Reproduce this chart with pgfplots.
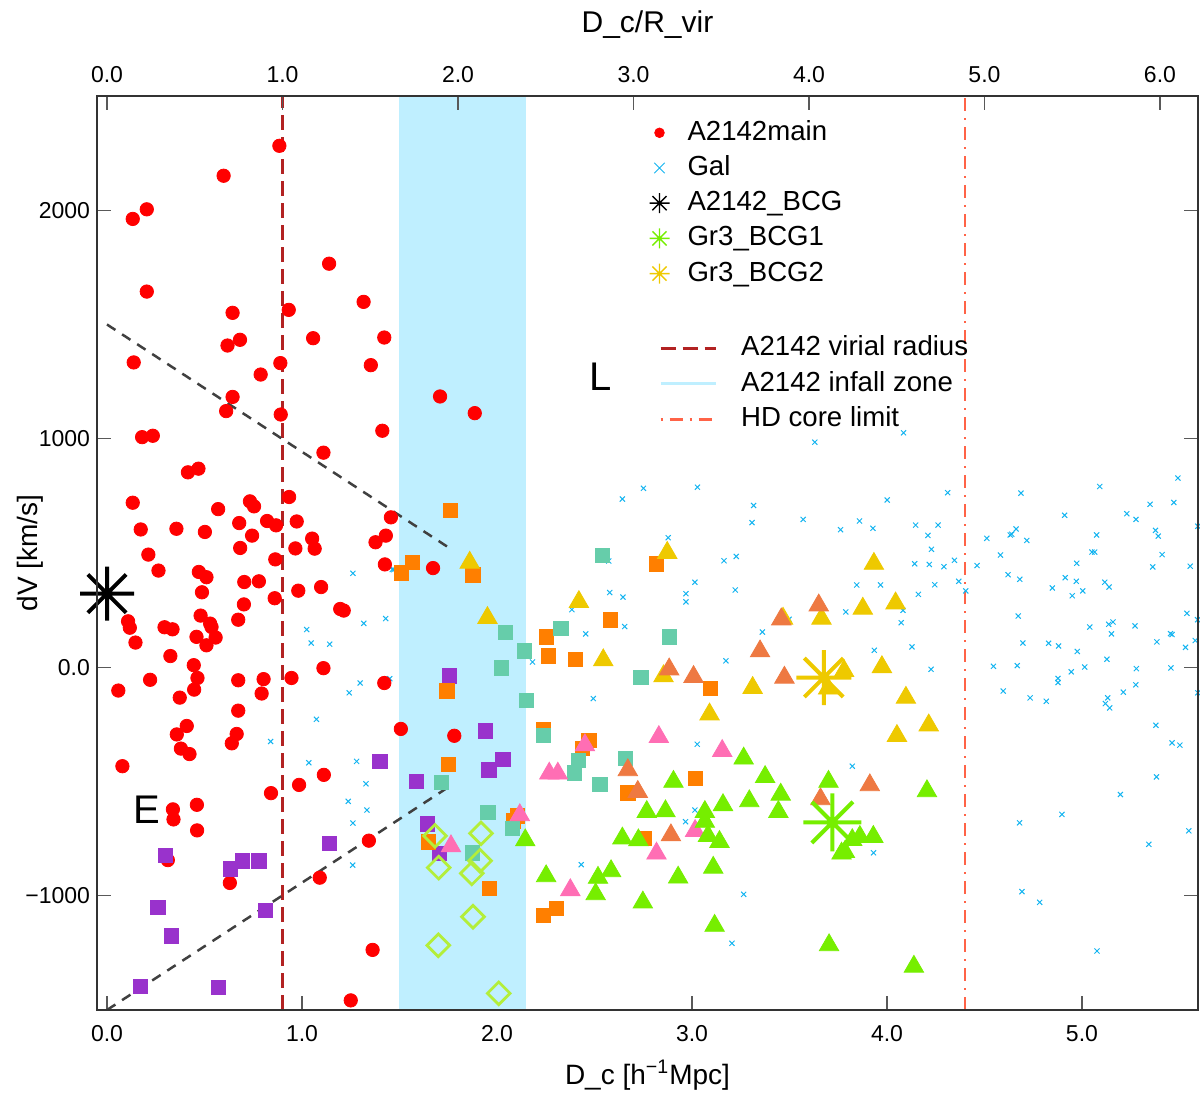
\documentclass[border=0pt]{standalone}
\usepackage{fontspec}
\setmainfont{Liberation Sans}
\usepackage{pgfplots}
\pgfplotsset{compat=1.18}
\definecolor{galblue}{RGB}{20,180,240}
\definecolor{purp}{RGB}{153,50,204}
\definecolor{orng}{RGB}{255,127,0}
\definecolor{teal2}{RGB}{102,205,170}
\definecolor{gold2}{RGB}{238,201,0}
\definecolor{coral2}{RGB}{238,121,66}
\definecolor{pink2}{RGB}{255,110,180}
\definecolor{green2}{RGB}{118,238,0}
\definecolor{olive2}{RGB}{179,238,58}
\definecolor{firebrick}{RGB}{178,34,34}
\definecolor{infall}{RGB}{191,239,255}
\definecolor{tomato}{RGB}{255,99,71}
\definecolor{dgray}{RGB}{64,64,64}
\pgfdeclareplotmark{ast8}{%
  \pgfpathmoveto{\pgfqpoint{-\pgfplotmarksize}{0pt}}\pgfpathlineto{\pgfqpoint{\pgfplotmarksize}{0pt}}%
  \pgfpathmoveto{\pgfqpoint{0pt}{-\pgfplotmarksize}}\pgfpathlineto{\pgfqpoint{0pt}{\pgfplotmarksize}}%
  \pgfpathmoveto{\pgfqpoint{-0.7071\pgfplotmarksize}{-0.7071\pgfplotmarksize}}\pgfpathlineto{\pgfqpoint{0.7071\pgfplotmarksize}{0.7071\pgfplotmarksize}}%
  \pgfpathmoveto{\pgfqpoint{-0.7071\pgfplotmarksize}{0.7071\pgfplotmarksize}}\pgfpathlineto{\pgfqpoint{0.7071\pgfplotmarksize}{-0.7071\pgfplotmarksize}}%
  \pgfusepathqstroke}
\pgfplotsset{
  mklegend/.style={legend image code/.code={\path[draw=none,fill=none] (-6pt,-6pt) rectangle (6pt,6pt); \draw[##1] plot coordinates {(0pt,0pt)};}},
  lnlegend/.style={legend image code/.code={\path[draw=none,fill=none] (0pt,-6pt) rectangle (27.5pt,6pt); \draw[##1] (0pt,0pt) -- (27.5pt,0pt);}},
  common/.style={at={(0pt,0pt)}, anchor=south west, scale only axis, width=550.5pt, height=457pt,
    ymin=-1500, ymax=2500, tick align=inside, major tick length=7pt,
    axis line style={draw=black!80, line width=0.8pt},
    every tick/.style={black!65, line width=0.6pt},
    tick label style={font=\fontsize{11.5}{13}\selectfont}},
  sq/.style={only marks, mark=square*, mark size=3.6pt, mark options={draw=#1, fill=#1}, forget plot},
  tri/.style={only marks, mark=triangle*, mark size=5.6pt, mark options={draw=#1, fill=#1}, forget plot},
}
\begin{document}
\begin{tikzpicture}
\useasboundingbox (-48.5pt,-45.5pt) rectangle (551.5pt,505pt);
\begin{axis}[common,
  xmin=-0.0513, xmax=5.595,
  xtick={0,1,2,3,4,5}, xticklabels={0.0,1.0,2.0,3.0,4.0,5.0},
  ytick={-1000,0,1000,2000}, yticklabels={−1000,0.0,1000,2000},
  xtick pos=left, ytick pos=both, yticklabel pos=left,
  xticklabel style={yshift=-4pt},
  xlabel={D\_c [h\textsuperscript{−1}Mpc]}, ylabel={dV [km/s]},
  xlabel style={font=\fontsize{14}{16}\selectfont, at={(axis description cs:0.5,-0.0711)}, anchor=center},
  ylabel style={font=\fontsize{14}{16}\selectfont, at={(axis description cs:-0.0609,0.5)}, anchor=center},
  legend cell align=left,
  legend style={at={(0.5,0.9745)}, anchor=north west, draw=none, fill=none, inner sep=0pt, outer sep=0pt,
    font=\fontsize{13.8}{16}\selectfont, row sep=4.1pt,
    nodes={inner sep=0pt, text height=10.5pt, text depth=3pt},
    /tikz/every odd column/.append style={column sep=8pt}},
]
\addlegendimage{mklegend, only marks, mark=*, mark size=2.4pt, mark options={draw=red, fill=red}}
\addlegendentry{A2142main}
\addlegendimage{mklegend, only marks, mark=x, mark size=3.7pt, mark options={draw=galblue, line width=0.5pt}}
\addlegendentry{Gal}
\addlegendimage{mklegend, only marks, mark=ast8, mark size=5pt, mark options={draw=black, line width=0.7pt}}
\addlegendentry{A2142\_BCG}
\addlegendimage{mklegend, only marks, mark=ast8, mark size=5pt, mark options={draw=green2, line width=0.7pt}}
\addlegendentry{Gr3\_BCG1}
\addlegendimage{mklegend, only marks, mark=ast8, mark size=5pt, mark options={draw=gold2, line width=0.7pt}}
\addlegendentry{Gr3\_BCG2}
% infall zone
\addplot[fill=infall, draw=none, forget plot] coordinates {(1.5,-1500) (2.15,-1500) (2.15,2500) (1.5,2500)};
% Gal
\addplot[only marks, mark=x, mark size=1.8pt, mark options={draw=galblue, line width=0.5pt}, forget plot] coordinates {
(1.261,411)(1.463,428)(1.024,165)(1.317,192)(1.429,213)(1.047,106)(1.142,101)(1.298,-69)(1.242,-112)(1.074,-228)(1.45,-50)
(0.839,-325)(1.035,-418)(1.280,-412)(1.328,-510)(1.237,-587)(1.333,-625)(1.261,-682)(1.260,-866)
(3.630,985)(4.085,1026)
(2.643,736)(2.751,783)(3.028,788)(2.878,567)(2.573,465)(3.015,372)(2.578,327)(2.646,307)(2.969,322)(2.969,286)(2.384,252)(2.655,178)(2.455,146)(2.182,23)(2.494,-137)(1.471,427)(3.027,-337)
(2.432,-864)(2.967,-676)(3.015,-625)
(3.316,708)(3.308,633)(3.570,647)(4.001,732)(4.311,764)(3.762,602)(3.859,640)(3.928,608)(4.147,622)(4.262,622)(4.210,577)(4.228,516)(4.512,564)(4.632,579)(4.582,491)(4.621,405)(3.164,466)(3.227,485)(3.222,338)(4.142,453)(4.217,450)(4.292,440)(4.346,468)(4.462,445)(4.368,376)(4.404,334)(4.245,361)(4.161,319)(3.845,360)(3.967,360)(3.789,242)(4.082,249)(4.073,195)(3.498,210)(3.361,154)(3.174,28)(3.935,74)(4.128,89)(4.226,-9)(4.546,4)(4.596,-104)
(3.822,-433)(3.931,-812)(3.265,-994)(3.205,-1208)
(4.687,762)(5.091,791)(5.492,828)(4.911,665)(5.349,713)(5.471,721)(5.230,672)(5.277,647)(4.662,605)(4.640,582)(4.717,555)(5.075,579)(5.377,599)(5.391,574)(5.594,617)(5.051,504)(5.065,504)(5.411,493)(4.973,455)(5.363,439)(5.555,442)(4.681,385)(4.848,347)(4.914,392)(4.971,376)(5.004,334)(4.950,313)(5.117,372)(5.139,351)(4.673,224)(5.040,176)(5.137,188)(5.159,198)(5.151,146)(5.272,181)(5.538,236)(5.593,208)(5.454,147)(5.462,143)(5.384,111)(5.531,87)(5.581,117)(4.697,106)(4.829,105)(4.880,93)(4.976,69)(5.128,35)(4.668,7)(5.014,1)(4.945,-20)(4.877,-49)(4.877,-67)(5.279,-6)(5.456,-3)(5.276,-77)(5.212,-109)(4.734,-134)(4.817,-149)(5.132,-134)(5.120,-159)(5.142,-178)(5.594,-112)(5.379,-254)
(5.462,-331)(5.502,-341)(5.382,-480)(5.197,-557)(4.897,-644)(4.680,-681)(5.548,-716)(5.343,-775)(4.692,-982)(4.783,-1029)(5.077,-1242)
};
% A2142main
\addplot[only marks, mark=*, mark size=3.35pt, mark options={draw=red, fill=red}, forget plot] coordinates {
(0.884,2282)(0.598,2151)(0.204,2004)(0.132,1962)(1.139,1766)(0.204,1644)(1.316,1599)(0.644,1551)(0.932,1564)(1.057,1440)(1.422,1443)(0.682,1433)(0.618,1408)(0.137,1334)(0.889,1331)(1.353,1322)(0.788,1281)(0.644,1183)(0.611,1121)(0.891,1106)
(1.708,1185)(1.886,1112)
(1.412,1035)(0.180,1007)(0.235,1013)(1.110,939)(0.415,853)(0.469,869)(0.132,720)(0.570,692)(0.733,726)(0.754,704)(0.934,745)(1.456,656)(0.173,603)(0.356,606)(0.502,592)(0.678,631)(0.821,640)(0.867,621)(0.973,638)(0.744,576)(1.430,576)(1.052,563)(1.377,547)(0.683,522)(0.966,520)(1.065,519)(0.212,493)(0.863,472)(1.425,450)(0.264,423)(0.471,417)(0.510,394)(0.704,373)(0.779,376)(0.981,335)(1.098,351)(0.487,328)(0.860,302)(0.702,275)(1.196,255)(1.214,248)(0.480,226)(0.673,208)(0.108,201)(0.117,173)(0.529,191)(0.536,176)(0.295,175)(0.336,166)(0.459,133)(0.557,130)(0.146,108)(0.510,96)(0.325,49)(0.445,9)(1.110,-4)(0.221,-55)(0.464,-47)(0.673,-57)(0.803,-52)(0.946,-47)(0.058,-102)(0.447,-98)(0.793,-115)(1.422,-69)(0.373,-133)(0.673,-190)
(1.672,434)(1.507,-270)(1.781,-300)
(0.409,-257)(0.358,-294)(0.665,-292)(0.640,-333)(0.379,-356)(0.423,-380)(0.079,-433)(1.112,-471)(0.985,-515)(0.841,-551)(0.461,-602)(0.338,-622)(0.341,-666)(0.462,-714)(1.343,-759)(0.312,-844)(0.630,-944)(1.091,-921)(1.362,-1237)(1.250,-1458)
};
% purple squares
\addplot[sq=purp] coordinates {
(1.40,-411)(0.300,-823)(0.632,-883)(0.695,-848)(0.778,-847)(1.142,-771)(0.260,-1052)(0.812,-1063)(0.331,-1175)(0.171,-1398)(0.570,-1402)(1.757,-38)(1.942,-278)(2.030,-404)(1.959,-450)(1.588,-500)(1.643,-686)(1.704,-815)
};
% orange squares
\addplot[sq=orng] coordinates {
(1.761,686)(1.566,459)(1.509,412)(1.877,404)(2.581,207)(2.816,452)(2.254,133)(2.265,49)(2.403,34)(1.744,-104)(2.237,-273)(2.472,-319)(2.437,-356)(1.751,-424)(3.018,-487)(2.672,-550)(2.085,-672)(2.105,-650)(1.648,-765)(2.756,-748)(1.961,-969)(2.304,-1055)(2.239,-1087)(3.094,-93)
};
% teal squares
\addplot[sq=teal2] coordinates {
(2.542,490)(2.328,169)(2.042,153)(2.141,71)(2.023,-3)(2.883,133)(2.739,-44)(2.151,-144)(2.239,-297)(2.417,-407)(2.398,-462)(2.657,-399)(2.527,-513)(1.715,-504)(1.954,-635)(2.078,-705)(1.874,-812)
};
% gold triangles
\addplot[tri=gold2] coordinates {
(1.860,458)(2.873,501)(2.420,286)(1.951,216)(2.545,31)(2.854,-39)(3.933,453)(4.044,280)(3.876,257)(3.664,213)(3.467,213)(3.780,-16)(3.974,1)(3.698,-93)(3.311,-90)(3.090,-206)(4.097,-133)(4.214,-254)(4.051,-300)
};
% coral triangles
\addplot[tri=coral2] coordinates {
(2.883,-9)(3.008,-42)(2.671,-450)(2.722,-545)(2.892,-735)(3.650,271)(3.458,210)(3.349,70)(3.474,-45)(3.912,-516)(3.659,-577)
};
% pink triangles
\addplot[tri=pink2] coordinates {
(2.830,-305)(2.451,-341)(2.268,-465)(2.312,-465)(2.117,-647)(1.764,-783)(2.376,-975)(2.818,-815)(3.016,-716)(3.155,-366)
};
% green triangles
\addplot[tri=green2] coordinates {
(2.145,-757)(2.905,-501)(2.768,-633)(2.864,-630)(2.643,-749)(2.725,-757)(2.252,-914)(2.518,-921)(2.585,-892)(2.506,-993)(2.929,-920)(2.748,-1029)(3.265,-399)(3.375,-480)(3.455,-557)(3.294,-586)(3.159,-603)(3.066,-633)(3.443,-633)(3.066,-676)(3.082,-738)(3.141,-764)(3.109,-877)(3.116,-1131)(3.700,-501)(4.205,-542)(3.930,-742)(3.861,-742)(3.822,-756)(3.784,-808)(3.767,-815)(3.703,-1216)(4.138,-1310)
};
% open diamonds
\addplot[only marks, mark=square, mark size=4pt, mark options={draw=olive2, line width=1.4pt, rotate=45}, forget plot] coordinates {
(1.682,-738)(1.918,-727)(1.701,-877)(1.913,-847)(1.871,-902)(1.877,-1092)(1.699,-1217)(2.009,-1427)
};
% BCGs
\addplot[only marks, mark=ast8, mark size=13.5pt, mark options={draw=black, line width=2pt}, forget plot] coordinates {(0.0,322)};
\addplot[only marks, mark=ast8, mark size=14.5pt, mark options={draw=green2, line width=2pt}, forget plot] coordinates {(3.720,-679)};
\addplot[only marks, mark=ast8, mark size=13.75pt, mark options={draw=gold2, line width=2pt}, forget plot] coordinates {(3.676,-45)};
% lines
\addplot[firebrick, line width=1.3pt, dash pattern=on 7.5pt off 3.5pt, forget plot] coordinates {(0.9,-1500)(0.9,2500)};
\addplot[tomato, line width=1.4pt, dash pattern=on 6.5pt off 3.5pt on 1pt off 3.5pt, forget plot] coordinates {(4.40,-1500)(4.40,2500)};
\addplot[dgray, line width=1.25pt, dash pattern=on 5pt off 4pt, forget plot] coordinates {(0,1500)(1.75,525)};
\addplot[dgray, line width=1.25pt, dash pattern=on 5pt off 4pt, forget plot] coordinates {(0,-1500)(1.75,-525)};
\node[font=\fontsize{20}{24}\selectfont] at (axis cs:0.204,-624) {E};
\node[font=\fontsize{20}{24}\selectfont] at (axis cs:2.533,1270) {L};
\end{axis}
\begin{axis}[common,
  xmin=-0.0570, xmax=6.2167,
  xtick={0,1,2,3,4,5,6}, xticklabels={0.0,1.0,2.0,3.0,4.0,5.0,6.0},
  xtick pos=right, xticklabel pos=right, ytick=\empty,
  xticklabel style={yshift=3pt},
  xlabel={D\_c/R\_vir},
  xlabel style={font=\fontsize{15}{17}\selectfont, at={(axis description cs:0.5,1.0777)}, anchor=center},
  legend cell align=left,
  legend style={at={(0.5104,0.7387)}, anchor=north west, draw=none, fill=none, inner sep=0pt, outer sep=0pt,
    font=\fontsize{13.8}{16}\selectfont, row sep=4.25pt,
    nodes={inner sep=0pt, text height=10.5pt, text depth=3pt},
    /tikz/every odd column/.append style={column sep=12pt}},
]
\addlegendimage{lnlegend, firebrick, line width=1.3pt, dash pattern=on 7.5pt off 3.5pt}
\addlegendentry{A2142 virial radius}
\addlegendimage{lnlegend, infall, line width=1.6pt}
\addlegendentry{A2142 infall zone}
\addlegendimage{lnlegend, tomato, line width=1.4pt, dash pattern=on 1pt off 3.5pt on 6.5pt off 3.5pt}
\addlegendentry{HD core limit}
\addplot[draw=none, forget plot] coordinates {(0,0)};
\end{axis}
\end{tikzpicture}
\end{document}
